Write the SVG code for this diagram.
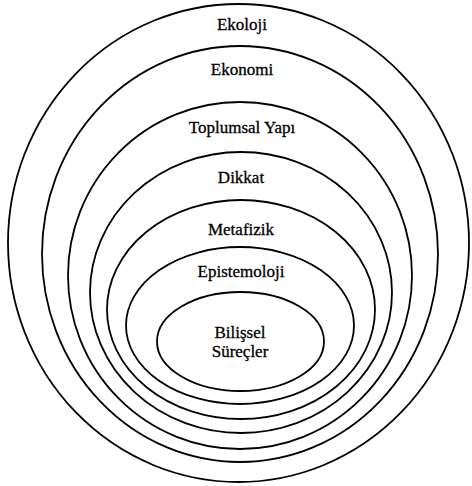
<svg xmlns="http://www.w3.org/2000/svg" width="472" height="486" viewBox="0 0 472 486">
<style>
.ring{fill:none;stroke:#000;stroke-width:1.8}
text{font-family:'Liberation Serif','Times New Roman',Times,serif;font-size:17px;fill:#000;text-anchor:middle;stroke:#000;stroke-width:0.3}
</style>
<rect width="472" height="486" fill="#fff"/>
<g id="ekoloji"><ellipse class="ring" cx="238.5" cy="243" rx="230.5" ry="239"/><text x="242" y="30">Ekoloji</text></g>
<g id="ekonomi"><ellipse class="ring" cx="240" cy="254" rx="198" ry="208"/><text x="242" y="75">Ekonomi</text></g>
<g id="toplumsal"><ellipse class="ring" cx="240" cy="275.5" rx="172" ry="173.5"/><text x="242" y="133">Toplumsal Yapı</text></g>
<g id="dikkat"><ellipse class="ring" cx="241" cy="292.5" rx="151" ry="140.5"/><text x="241" y="183">Dikkat</text></g>
<g id="metafizik"><ellipse class="ring" cx="241" cy="309.5" rx="134" ry="109.5"/><text x="241" y="235">Metafizik</text></g>
<g id="epistemoloji"><ellipse class="ring" cx="240" cy="325.5" rx="114" ry="78.5"/><text x="241" y="277">Epistemoloji</text></g>
<g id="bilissel"><ellipse class="ring" cx="240.5" cy="341.5" rx="83.5" ry="49.5"/><text x="240" y="338">Bilişsel</text><text x="240" y="357">Süreçler</text></g>
<g id="connectors"/>
</svg>
